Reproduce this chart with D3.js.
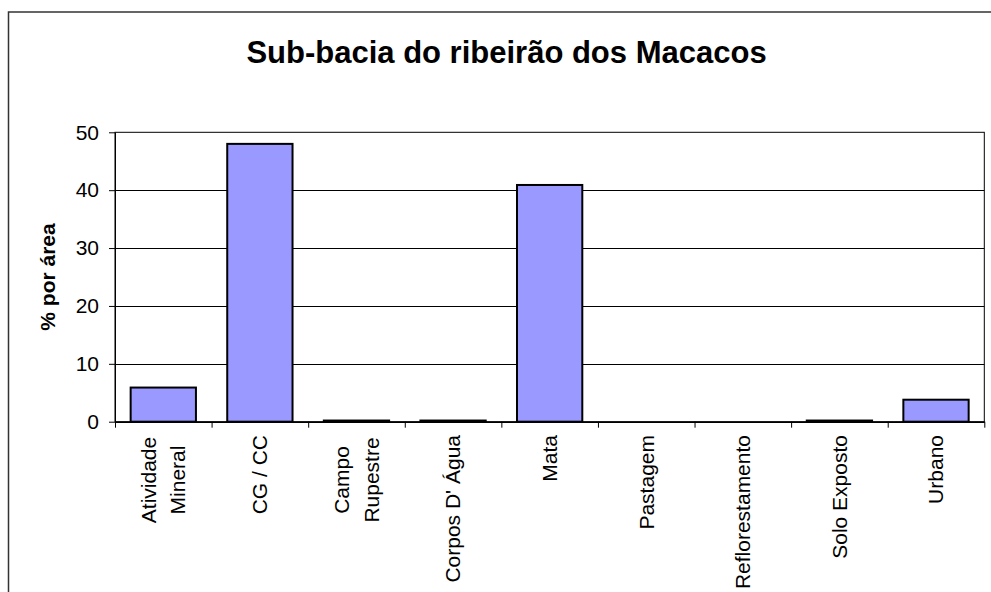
<!DOCTYPE html>
<html>
<head>
<meta charset="utf-8">
<script src="https://cdn.jsdelivr.net/npm/d3@7"></script>
<style>
    body { margin: 0; background: #fff; }
    svg { display: block; font-family: "Liberation Sans", Arial, sans-serif; }
</style>
</head>
<body>
<svg id="chart" width="991" height="592"></svg>
<script>
// values (% of area per land use class)
var categories = [
    ["Atividade", "Mineral"],
    ["CG / CC"],
    ["Campo", "Rupestre"],
    ["Corpos D' Água"],
    ["Mata"],
    ["Pastagem"],
    ["Reflorestamento"],
    ["Solo Exposto"],
    ["Urbano"]
];
var values = [5.9, 48.0, 0.2, 0.2, 40.9, 0, 0, 0.2, 3.8];
var yTicks = [0, 10, 20, 30, 40, 50];
var title = "Sub-bacia do ribeirão dos Macacos";
var yTitle = "% por área";

var svg = d3.select("#chart");
var plot = {left: 115, right: 984.3, top: 132.3, bottom: 421.7};
var fontSize = 21;

// outer chart frame, its right and bottom edges fall outside the window
svg.append("rect")
    .attr("x", 8.5).attr("y", 12)
    .attr("width", 1000).attr("height", 620)
    .attr("fill", "#fff")
    .attr("stroke", "#333")
    .attr("stroke-width", 1.5);

var keys = categories.map(function(c) { return c.join(" "); });

var x = d3.scaleBand()
    .domain(keys)
    .range([plot.left, plot.right])
    .paddingInner(0.324)
    .paddingOuter(0.162);

var xEdges = d3.scaleLinear()
    .domain([0, categories.length])
    .range([plot.left, plot.right]);

var y = d3.scaleLinear()
    .domain([0, 50])
    .range([plot.bottom, plot.top]);

// plot area
svg.append("rect")
    .attr("x", plot.left).attr("y", plot.top)
    .attr("width", plot.right - plot.left)
    .attr("height", plot.bottom - plot.top)
    .attr("fill", "#fff")
    .attr("stroke", "#000")
    .attr("stroke-width", 1);

// gridlines
svg.append("g")
    .selectAll("line")
    .data(yTicks.filter(function(t) { return t > 0 && t < 50; }))
    .join("line")
    .attr("x1", plot.left).attr("x2", plot.right)
    .attr("y1", function(d) { return Math.round(y(d)) + 0.5; })
    .attr("y2", function(d) { return Math.round(y(d)) + 0.5; })
    .attr("stroke", "#000")
    .attr("stroke-width", 1);

// bars
svg.append("g")
    .selectAll("rect")
    .data(values.map(function(v, i) { return {key: keys[i], value: v}; }).filter(function(d) { return d.value > 0; }))
    .join("rect")
    .attr("x", function(d) { return x(d.key); })
    .attr("y", function(d) { return y(d.value); })
    .attr("width", x.bandwidth())
    .attr("height", function(d) { return y(0) - y(d.value); })
    .attr("fill", "#9999ff")
    .attr("stroke", "#000")
    .attr("stroke-width", 2);

// y axis
var yAxis = svg.append("g")
    .attr("transform", "translate(" + plot.left + ",0)")
    .call(d3.axisLeft(y).tickValues(yTicks).tickSize(6).tickSizeOuter(0).tickPadding(10));
yAxis.select(".domain").attr("stroke", "#000");
yAxis.selectAll(".tick line").attr("stroke", "#000");
yAxis.selectAll("text")
    .attr("font-size", fontSize)
    .attr("font-family", "Liberation Sans, Arial, sans-serif")
    .attr("fill", "#000");

// x axis, ticks sit on the category edges
var xAxis = svg.append("g")
    .attr("transform", "translate(0," + plot.bottom + ")")
    .call(d3.axisBottom(xEdges).ticks(categories.length).tickSize(6).tickSizeOuter(0).tickFormat(""));
xAxis.select(".domain").attr("stroke", "#000").attr("stroke-width", 1.5);
xAxis.selectAll(".tick line").attr("stroke", "#000");

// category labels, rotated
var labels = svg.append("g")
    .selectAll("text")
    .data(categories)
    .join("text")
    .attr("font-size", fontSize)
    .attr("fill", "#000")
    .attr("transform", function(d, i) {
        var cx = x(keys[i]) + x.bandwidth() / 2;
        var ty = d.length > 1 ? 480 : 435;
        return "translate(" + cx + "," + ty + ") rotate(-90)";
    })
    .attr("text-anchor", function(d) { return d.length > 1 ? "middle" : "end"; });

labels.selectAll("tspan")
    .data(function(d) { return d.map(function(line, j) { return {line: line, j: j, n: d.length}; }); })
    .join("tspan")
    .attr("x", 0)
    .attr("y", function(d) { return (d.j - (d.n - 1) / 2) * 29.7; })
    .attr("dy", "0.35em")
    .text(function(d) { return d.line; });

// title
svg.append("text")
    .attr("x", 506.5).attr("y", 63)
    .attr("text-anchor", "middle")
    .attr("font-size", 31)
    .attr("font-weight", "bold")
    .attr("fill", "#000")
    .text(title);

// y axis title
svg.append("text")
    .attr("transform", "translate(55," + ((plot.top + plot.bottom) / 2) + ") rotate(-90)")
    .attr("text-anchor", "middle")
    .attr("font-size", fontSize)
    .attr("font-weight", "bold")
    .attr("fill", "#000")
    .text(yTitle);
</script>
</body>
</html>
